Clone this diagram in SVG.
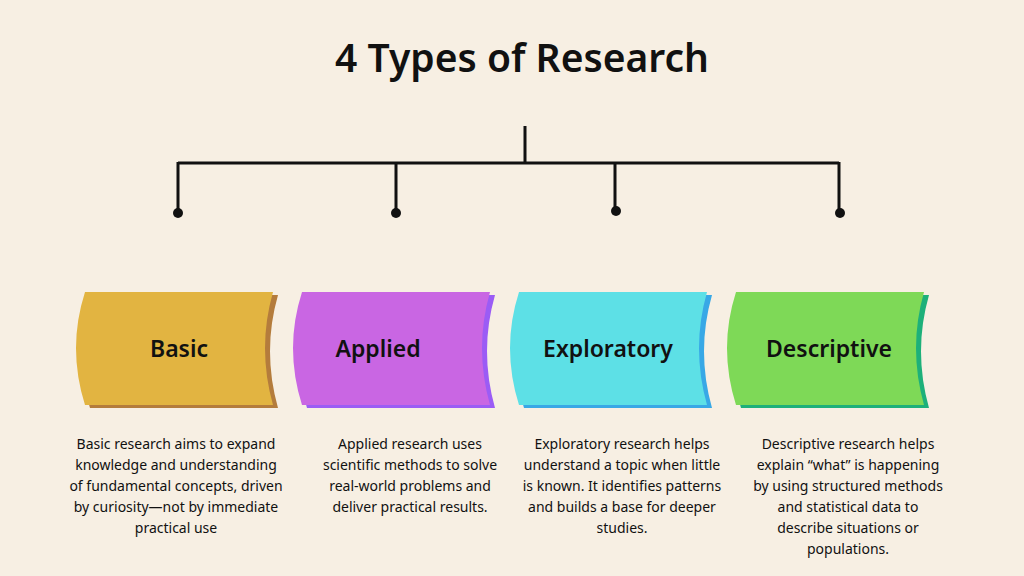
<svg xmlns="http://www.w3.org/2000/svg" width="1024" height="576" viewBox="0 0 1024 576">
<style>
.t{font-family:"Noto Sans","DejaVu Sans",sans-serif;fill:#111;text-anchor:middle}
.h{font-size:23px;font-weight:600}
.b{font-size:14px}
.ln{stroke:#111;stroke-width:3;fill:none}
</style>
<defs><path id="s" d="M85,292 L273,292 Q257,348 273,405 L85,405 Q67,348 85,292 Z"/></defs>
<rect width="1024" height="576" fill="#F7EFE3"/>
<text class="t" x="522" y="72" font-size="39" font-weight="600">4 Types of Research</text>
<g id="connectors">
<path class="ln" d="M525,126 V163 M178,163 H839 M178,162 V213 M396,162 V213 M615,162 V213 M839,162 V213"/>
<g fill="#111"><circle cx="178" cy="213" r="5"/><circle cx="396" cy="213" r="5"/><circle cx="616" cy="211" r="5"/><circle cx="840" cy="213" r="5"/></g>
</g>
<g id="basic">
<use href="#s" x="5" y="3" fill="#B47C3C"/><use href="#s" fill="#E2B441"/>
<text class="t h" x="179" y="357">Basic</text>
<text class="t b"><tspan x="176" y="449">Basic research aims to expand</tspan><tspan x="176" y="470">knowledge and understanding</tspan><tspan x="176" y="491">of fundamental concepts, driven</tspan><tspan x="176" y="512">by curiosity—not by immediate</tspan><tspan x="176" y="533">practical use</tspan></text>
</g>
<g id="applied">
<use href="#s" x="222" y="3" fill="#9B5CF5"/><use href="#s" x="217" fill="#C966E3"/>
<text class="t h" x="378" y="357">Applied</text>
<text class="t b"><tspan x="410" y="449">Applied research uses</tspan><tspan x="410" y="470">scientific methods to solve</tspan><tspan x="410" y="491">real-world problems and</tspan><tspan x="410" y="512">deliver practical results.</tspan></text>
</g>
<g id="exploratory">
<use href="#s" x="439" y="3" fill="#38A8E6"/><use href="#s" x="434" fill="#5DE0E6"/>
<text class="t h" x="608" y="357">Exploratory</text>
<text class="t b"><tspan x="622" y="449">Exploratory research helps</tspan><tspan x="622" y="470">understand a topic when little</tspan><tspan x="622" y="491">is known. It identifies patterns</tspan><tspan x="622" y="512">and builds a base for deeper</tspan><tspan x="622" y="533">studies.</tspan></text>
</g>
<g id="descriptive">
<use href="#s" x="656" y="3" fill="#1DB07A"/><use href="#s" x="651" fill="#7ED957"/>
<text class="t h" x="829" y="357">Descriptive</text>
<text class="t b"><tspan x="848" y="449">Descriptive research helps</tspan><tspan x="848" y="470">explain “what” is happening</tspan><tspan x="848" y="491">by using structured methods</tspan><tspan x="848" y="512">and statistical data to</tspan><tspan x="848" y="533">describe situations or</tspan><tspan x="848" y="554">populations.</tspan></text>
</g>
</svg>
